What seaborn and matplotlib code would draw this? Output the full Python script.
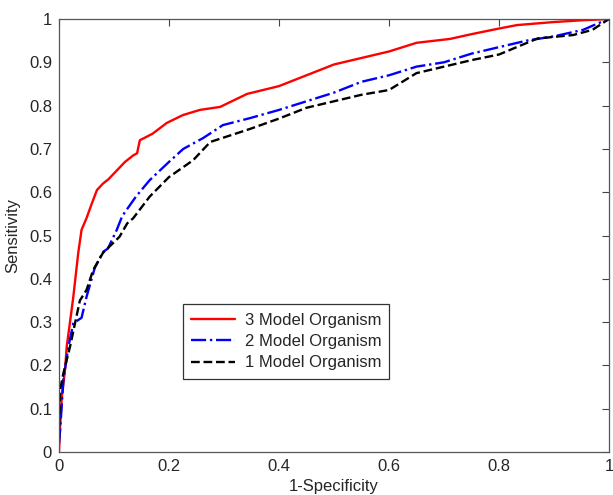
import numpy as np
import pandas as pd
import matplotlib
matplotlib.use("Agg")
import matplotlib.pyplot as plt
import seaborn as sns

# ROC curves (1-specificity, sensitivity)
fpr_3 = [0.0, 0.002, 0.005, 0.011, 0.014, 0.02, 0.026, 0.035, 0.041, 0.05, 0.06, 0.069,
         0.08, 0.09, 0.105, 0.12, 0.135, 0.142, 0.147, 0.17, 0.196, 0.225, 0.256, 0.293,
         0.342, 0.4, 0.45, 0.5, 0.55, 0.6, 0.65, 0.711, 0.75, 0.8, 0.833, 0.9, 0.95, 1.0]
tpr_3 = [0.0, 0.06, 0.127, 0.19, 0.243, 0.3, 0.358, 0.46, 0.513, 0.54, 0.575, 0.605,
         0.62, 0.63, 0.65, 0.67, 0.685, 0.69, 0.72, 0.735, 0.76, 0.778, 0.79, 0.797,
         0.827, 0.845, 0.87, 0.895, 0.91, 0.925, 0.945, 0.954, 0.965, 0.978, 0.986, 0.993, 0.997, 1.0]

fpr_2 = [0.0, 0.002, 0.008, 0.017, 0.026, 0.041, 0.05, 0.065, 0.08, 0.089, 0.105, 0.115,
         0.14, 0.165, 0.2, 0.226, 0.262, 0.298, 0.347, 0.4, 0.45, 0.5, 0.55, 0.6, 0.65,
         0.7, 0.75, 0.8, 0.85, 0.9, 0.953, 0.98, 1.0]
tpr_2 = [0.02, 0.05, 0.166, 0.243, 0.297, 0.31, 0.358, 0.425, 0.462, 0.47, 0.513, 0.545,
         0.59, 0.628, 0.67, 0.70, 0.725, 0.755, 0.771, 0.79, 0.81, 0.83, 0.855, 0.87, 0.89,
         0.90, 0.92, 0.935, 0.95, 0.96, 0.975, 0.99, 1.0]

fpr_1 = [0.0, 0.002, 0.008, 0.02, 0.038, 0.05, 0.062, 0.08, 0.11, 0.124, 0.135, 0.165,
         0.2, 0.244, 0.275, 0.347, 0.4, 0.45, 0.5, 0.55, 0.6, 0.65, 0.7, 0.75, 0.8,
         0.87, 0.935, 0.97, 1.0]
tpr_1 = [0.03, 0.143, 0.182, 0.243, 0.35, 0.374, 0.42, 0.46, 0.497, 0.528, 0.54, 0.59,
         0.635, 0.674, 0.716, 0.746, 0.77, 0.795, 0.81, 0.825, 0.836, 0.875, 0.89, 0.905, 0.918,
         0.955, 0.963, 0.975, 1.0]

labels = ["3 Model Organism", "2 Model Organism", "1 Model Organism"]

sns.set_style("white")
plt.rcParams["font.family"] = ["Liberation Sans", "DejaVu Sans"]

fig = plt.figure(figsize=(6.13, 4.95), dpi=100)
ax = fig.add_axes([59 / 613, 1 - 452 / 495, 550 / 613, 433 / 495])

sns.lineplot(x=fpr_3, y=tpr_3, ax=ax, color="#ff0000", lw=1.7, label=labels[0],
             estimator=None, sort=False)
sns.lineplot(x=fpr_2, y=tpr_2, ax=ax, color="#0000ff", lw=1.7, linestyle="-.",
             label=labels[1], estimator=None, sort=False)
sns.lineplot(x=fpr_1, y=tpr_1, ax=ax, color="#000000", lw=1.7, linestyle="--",
             label=labels[2], estimator=None, sort=False)

ax.set_xlim(0, 1)
ax.set_ylim(0, 1)
ax.set_xticks(np.arange(0, 1.01, 0.2))
ax.set_xticklabels(["0", "0.2", "0.4", "0.6", "0.8", "1"])
ax.set_yticks(np.arange(0, 1.01, 0.1))
ax.set_yticklabels(["0", "0.1", "0.2", "0.3", "0.4", "0.5", "0.6", "0.7", "0.8", "0.9", "1"])
ax.tick_params(direction="in", length=5, width=0.8, top=True, right=True,
               labelsize=12, color="#444444", pad=5)
for s in ax.spines.values():
    s.set_color("#555555")
    s.set_linewidth(0.9)

ax.set_xlabel("1-Specificity", fontsize=12, labelpad=4)
ax.set_ylabel("Sensitivity", fontsize=12, labelpad=6)

leg = ax.legend(loc="lower left", bbox_to_anchor=(0.21, 0.15), fontsize=12,
                fancybox=False, framealpha=1, edgecolor="#333333",
                handlelength=2.6, borderpad=0.5, labelspacing=0.38, handletextpad=0.6)
leg.get_frame().set_linewidth(0.9)

fig.savefig("out.png", dpi=100)
